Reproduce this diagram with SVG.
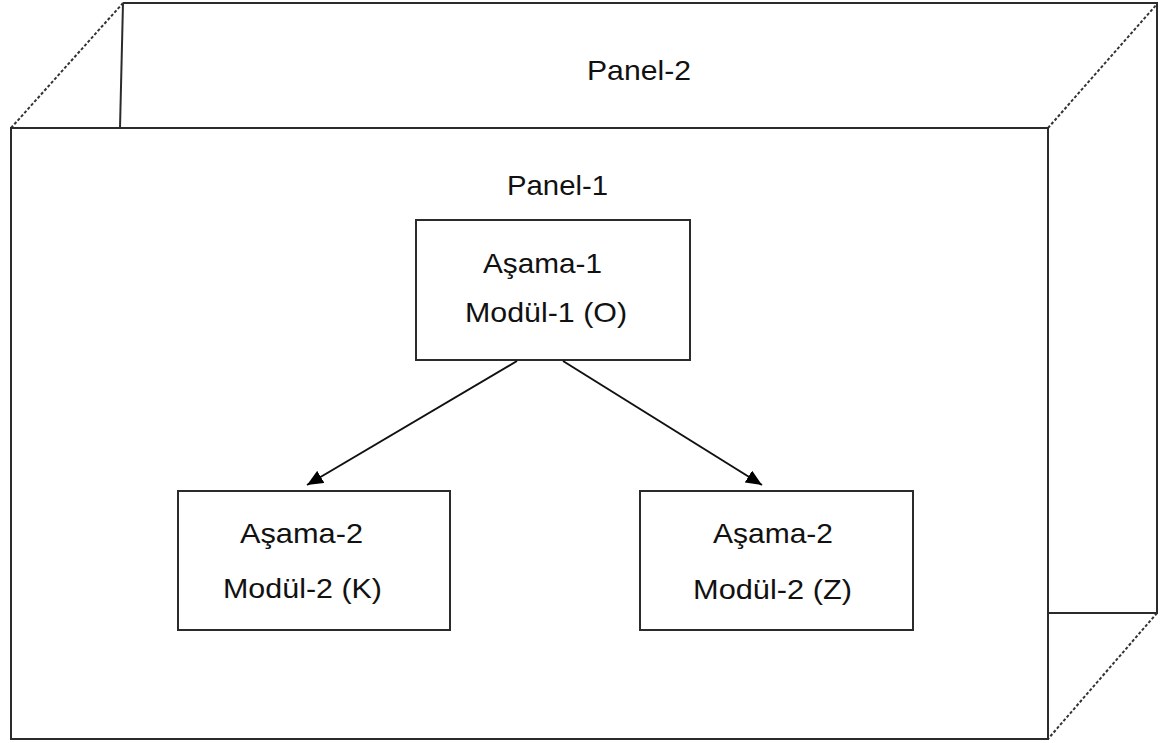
<svg xmlns="http://www.w3.org/2000/svg" width="1161" height="743" viewBox="0 0 1161 743">
  <style>
    .edge { fill: none; stroke: #2b2b2b; stroke-width: 2; }
    .dash { fill: none; stroke: #333; stroke-width: 2; stroke-dasharray: 3 2; }
    .box { fill: #fff; stroke: #2b2b2b; stroke-width: 2; }
    .lbl { font-family: "Liberation Sans", Arial, sans-serif; font-size: 28px; fill: #111; }
    .conn { stroke: #111; stroke-width: 2; fill: none; }
  </style>
  <defs>
    <marker id="arrow" markerUnits="userSpaceOnUse" markerWidth="18" markerHeight="14" refX="16" refY="7" orient="auto">
      <path d="M0,0 L16,7 L0,14 Z" fill="#000"/>
    </marker>
  </defs>
  <rect width="1161" height="743" fill="#fff"/>

  <g id="panel-2">
    <path class="edge" d="M123,3 L1157,3 L1157,613 L1048,613"/>
    <path class="edge" d="M123,3 L120,128"/>
    <path class="dash" d="M11,128 L123,3"/>
    <path class="dash" d="M1048,128 L1157,4"/>
    <path class="dash" d="M1157,613 L1048,739"/>
    <text class="lbl" x="587" y="80" textLength="104" lengthAdjust="spacingAndGlyphs">Panel-2</text>
  </g>

  <g id="panel-1">
    <rect class="edge" x="11" y="128" width="1037" height="611"/>
    <text class="lbl" x="507" y="195" textLength="101" lengthAdjust="spacingAndGlyphs">Panel-1</text>
  </g>

  <g id="asama-1">
    <rect class="box" x="416" y="220" width="274" height="140"/>
    <text class="lbl" x="483" y="273" textLength="119" lengthAdjust="spacingAndGlyphs">Aşama-1</text>
    <text class="lbl" x="465" y="322" textLength="162" lengthAdjust="spacingAndGlyphs">Modül-1 (O)</text>
  </g>

  <g id="asama-2-k">
    <rect class="box" x="178" y="491" width="272" height="139"/>
    <text class="lbl" x="240" y="543" textLength="123" lengthAdjust="spacingAndGlyphs">Aşama-2</text>
    <text class="lbl" x="223" y="598" textLength="159" lengthAdjust="spacingAndGlyphs">Modül-2 (K)</text>
  </g>

  <g id="asama-2-z">
    <rect class="box" x="640" y="491" width="273" height="139"/>
    <text class="lbl" x="713" y="543" textLength="120" lengthAdjust="spacingAndGlyphs">Aşama-2</text>
    <text class="lbl" x="693" y="599" textLength="159" lengthAdjust="spacingAndGlyphs">Modül-2 (Z)</text>
  </g>

  <g id="connectors">
    <line class="conn" x1="517" y1="361" x2="307" y2="485" marker-end="url(#arrow)"/>
    <line class="conn" x1="563" y1="361" x2="762" y2="485" marker-end="url(#arrow)"/>
  </g>
</svg>
